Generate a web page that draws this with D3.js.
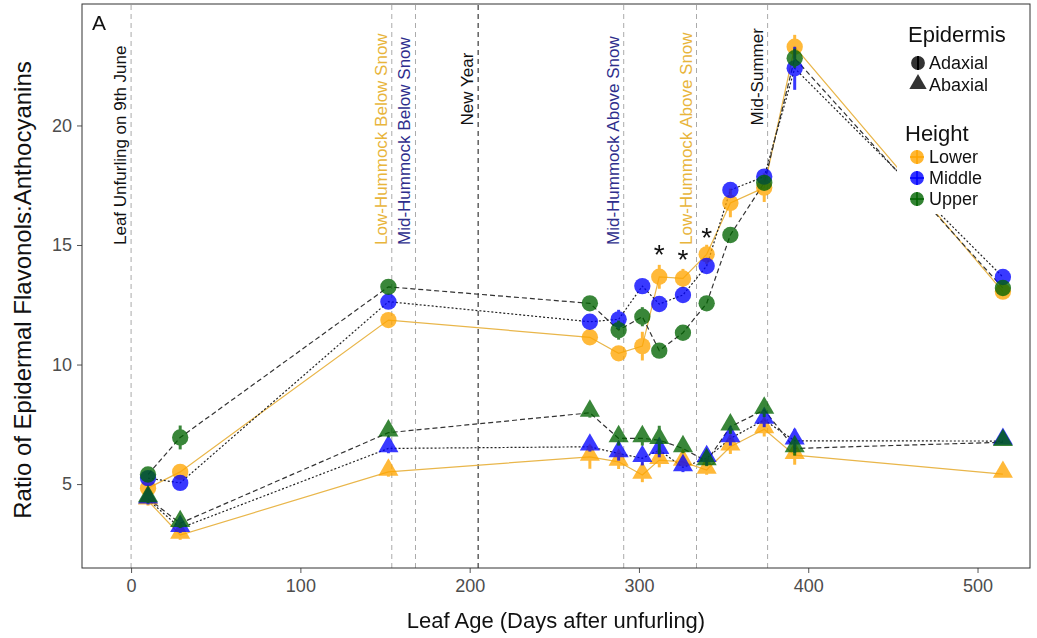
<!DOCTYPE html>
<html>
<head>
<meta charset="utf-8">
<title>Flavonols:Anthocyanins ratio</title>
<script src="https://cdn.jsdelivr.net/npm/d3@7"></script>
<style>
  body { margin: 0; background: #fff; font-family: "Liberation Sans", Arial, sans-serif; }
</style>
</head>
<body>
<div id="chart"></div>
<script>
// leaf age (days after unfurling) for each sampling date
var days = [10, 29, 152, 271, 288, 302, 312, 326, 340, 354, 374, 392, 515];

// adaxial (circles)
var adaxialLower  = [4.83, 5.51, 11.86, 11.14, 10.47, 10.77, 13.67, 13.60, 14.61, 16.76, 17.40, 23.29, 13.05];
var adaxialMiddle = [5.25, 5.05, 12.63, 11.79, 11.89, 13.28, 12.53, 12.91, 14.12, 17.30, 17.86, 22.39, 13.66];
var adaxialUpper  = [5.40, 6.95, 13.25, 12.56, 11.44, 12.00, 10.58, 11.33, 12.56, 15.42, 17.60, 22.81, 13.20];
// abaxial (triangles)
var abaxialLower  = [4.30, 2.87, 5.51, 6.14, 5.93, 5.38, 6.00, 5.93, 5.59, 6.56, 7.29, 6.21, 5.42];
var abaxialMiddle = [4.35, 3.16, 6.49, 6.56, 6.28, 6.08, 6.42, 5.70, 6.08, 6.91, 7.68, 6.81, 6.80];
var abaxialUpper  = [4.40, 3.36, 7.15, 7.98, 6.91, 6.91, 6.84, 6.49, 5.95, 7.40, 8.10, 6.49, 6.75];

// error bar half widths
var adaxialLowerSE  = [0.2, 0.3, 0.3, 0.2, 0.3, 0.6, 0.5, 0.4, 0.4, 0.6, 0.6, 0.5, 0.2];
var adaxialMiddleSE = [0.2, 0.2, 0.3, 0.3, 0.4, 0.2, 0.3, 0.3, 0.2, 0.3, 0.3, 0.9, 0.2];
var adaxialUpperSE  = [0.2, 0.5, 0.3, 0.3, 0.4, 0.4, 0.2, 0.2, 0.2, 0.2, 0.3, 0.4, 0.2];
var abaxialLowerSE  = [0.2, 0.2, 0.2, 0.5, 0.3, 0.3, 0.3, 0.2, 0.2, 0.3, 0.3, 0.4, 0.1];
var abaxialMiddleSE = [0.2, 0.2, 0.2, 0.2, 0.3, 0.3, 0.3, 0.2, 0.3, 0.3, 0.3, 0.5, 0.1];
var abaxialUpperSE  = [0.2, 0.2, 0.2, 0.2, 0.3, 0.3, 0.6, 0.2, 0.2, 0.3, 0.3, 0.3, 0.1];

var heights = ["Lower", "Middle", "Upper"];
var epidermis = ["Adaxial", "Abaxial"];

// vertical event lines
var eventDays   = [0, 154, 168, 205, 291, 334, 376];
var eventLabels = ["Leaf Unfurling on 9th June", "Low-Hummock Below Snow", "Mid-Hummock Below Snow",
                   "New Year", "Mid-Hummock Above Snow", "Low-Hummock Above Snow", "Mid-Summer"];
var eventLabelY = [15, 15, 15, 20, 15, 15, 20];

// significance stars
var starDays = [312, 326, 340];
var starY    = [14.8, 14.6, 15.5];

var xTicks = [0, 100, 200, 300, 400, 500];
var yTicks = [5, 10, 15, 20];

var W = 1037, H = 638;
var margin = {left: 82, top: 4, right: 7, bottom: 70};

var color = {Lower: "#FFA500", Middle: "#0000FF", Upper: "#006400"};
var lineStyle = {
  Lower:  {stroke: "#E9B64A", dash: null, width: 1.2},
  Middle: {stroke: "#222", dash: "2,2", width: 1.2},
  Upper:  {stroke: "#333", dash: "5,3", width: 1.2}
};
var eventColor = {"Low-Hummock Below Snow": "#E8B53C", "Low-Hummock Above Snow": "#E8B53C",
                  "Mid-Hummock Below Snow": "#2E2E8C", "Mid-Hummock Above Snow": "#2E2E8C"};

var series = [
  {ep: "Adaxial", h: "Lower",  v: adaxialLower,  se: adaxialLowerSE},
  {ep: "Adaxial", h: "Middle", v: adaxialMiddle, se: adaxialMiddleSE},
  {ep: "Adaxial", h: "Upper",  v: adaxialUpper,  se: adaxialUpperSE},
  {ep: "Abaxial", h: "Lower",  v: abaxialLower,  se: abaxialLowerSE},
  {ep: "Abaxial", h: "Middle", v: abaxialMiddle, se: abaxialMiddleSE},
  {ep: "Abaxial", h: "Upper",  v: abaxialUpper,  se: abaxialUpperSE}
];

var svg = d3.select("#chart").append("svg").attr("width", W).attr("height", H);

var x = d3.scaleLinear().domain([-29, 531]).range([margin.left, W - margin.right]);
var y = d3.scaleLinear().domain([1.49, 25.08]).range([H - margin.bottom, margin.top]);

// event lines + labels
var ev = svg.append("g");
eventDays.forEach(function(d, i) {
  ev.append("line")
    .attr("x1", x(d)).attr("x2", x(d))
    .attr("y1", y.range()[0]).attr("y2", y.range()[1])
    .attr("stroke", eventLabels[i] == "New Year" ? "#111" : "#aaa")
    .attr("stroke-width", 1)
    .attr("stroke-dasharray", "5,4");
  ev.append("text")
    .attr("transform", "translate(" + (x(d) - 5) + "," + y(eventLabelY[i]) + ") rotate(-90)")
    .attr("font-size", 17)
    .attr("fill", eventColor[eventLabels[i]] || "#111")
    .text(eventLabels[i]);
});

// lines
var line = d3.line().x(function(d) { return x(d[0]); }).y(function(d) { return y(d[1]); });
series.forEach(function(s) {
  var st = lineStyle[s.h];
  svg.append("path")
    .datum(days.map(function(d, i) { return [d, s.v[i]]; }))
    .attr("d", line)
    .attr("fill", "none")
    .attr("stroke", st.stroke)
    .attr("stroke-width", st.width)
    .attr("stroke-dasharray", st.dash);
});

// error bars and points
var circle = d3.symbol().type(d3.symbolCircle).size(210);
var tri = d3.symbol().type(d3.symbolTriangle).size(175);
series.forEach(function(s) {
  var g = svg.append("g").attr("opacity", 0.78);
  days.forEach(function(d, i) {
    g.append("line")
      .attr("x1", x(d)).attr("x2", x(d))
      .attr("y1", y(s.v[i] - s.se[i])).attr("y2", y(s.v[i] + s.se[i]))
      .attr("stroke", color[s.h]).attr("stroke-width", 3);
    g.append("path")
      .attr("d", s.ep == "Adaxial" ? circle() : tri())
      .attr("transform", "translate(" + x(d) + "," + (y(s.v[i]) + (s.ep == "Abaxial" ? -2 : 0)) + ")")
      .attr("fill", color[s.h]);
  });
});

// stars
starDays.forEach(function(d, i) {
  svg.append("text")
    .attr("x", x(d)).attr("y", y(starY[i]) + 14)
    .attr("text-anchor", "middle")
    .attr("font-size", 28)
    .attr("fill", "#111")
    .text("*");
});

// legend (white box hides lines underneath)
var lg = svg.append("g");
lg.append("rect").attr("x", 897).attr("y", 18).attr("width", 132).attr("height", 196).attr("fill", "#fff");
lg.append("text").attr("x", 908).attr("y", 42).attr("font-size", 22).attr("fill", "#111").text("Epidermis");
epidermis.forEach(function(e, i) {
  var cy = 63 + i * 22;
  lg.append("path").attr("d", e == "Adaxial" ? circle.size(150)() : tri.size(130)())
    .attr("transform", "translate(918," + (cy - (e == "Abaxial" ? 1 : 0)) + ")").attr("fill", "#333");
  if (e == "Adaxial")
    lg.append("line").attr("x1", 918).attr("x2", 918).attr("y1", cy - 7).attr("y2", cy + 7)
      .attr("stroke", "#000").attr("stroke-width", 2);
  lg.append("text").attr("x", 929).attr("y", cy + 6).attr("font-size", 18).attr("fill", "#111").text(e);
});
lg.append("text").attr("x", 905).attr("y", 141).attr("font-size", 22).attr("fill", "#111").text("Height");
heights.forEach(function(h, i) {
  var cy = 157 + i * 21;
  lg.append("path").attr("d", circle.size(150)())
    .attr("transform", "translate(917," + cy + ")").attr("fill", color[h]).attr("opacity", 0.8);
  lg.append("line").attr("x1", 917).attr("x2", 917).attr("y1", cy - 7).attr("y2", cy + 7)
    .attr("stroke", color[h]).attr("stroke-width", 1.5);
  lg.append("line").attr("x1", 910).attr("x2", 924).attr("y1", cy).attr("y2", cy)
    .attr("stroke", color[h]).attr("stroke-width", 1.5);
  lg.append("text").attr("x", 929).attr("y", cy + 6).attr("font-size", 18).attr("fill", "#111").text(h);
});

// axes
var xAxis = svg.append("g")
  .attr("transform", "translate(0," + (H - margin.bottom) + ")")
  .call(d3.axisBottom(x).tickValues(xTicks).tickSize(5).tickPadding(6));
var yAxis = svg.append("g")
  .attr("transform", "translate(" + margin.left + ",0)")
  .call(d3.axisLeft(y).tickValues(yTicks).tickSize(5).tickPadding(5));
[xAxis, yAxis].forEach(function(a) {
  a.select(".domain").remove();
  a.selectAll(".tick line").attr("stroke", "#555");
  a.selectAll(".tick text").attr("fill", "#4d4d4d").attr("font-size", 18)
    .attr("font-family", "'Liberation Sans', Arial, sans-serif");
});

// panel border
svg.append("rect")
  .attr("x", margin.left).attr("y", margin.top)
  .attr("width", W - margin.left - margin.right).attr("height", H - margin.top - margin.bottom)
  .attr("fill", "none").attr("stroke", "#333").attr("stroke-width", 1);

svg.append("text").attr("x", 92).attr("y", 30).attr("font-size", 21).attr("fill", "#111").text("A");

svg.append("text")
  .attr("x", (margin.left + W - margin.right) / 2).attr("y", 628)
  .attr("text-anchor", "middle").attr("font-size", 22).attr("fill", "#111")
  .text("Leaf Age (Days after unfurling)");
svg.append("text")
  .attr("transform", "translate(31,290) rotate(-90)")
  .attr("text-anchor", "middle").attr("font-size", 24).attr("fill", "#111")
  .text("Ratio of Epidermal Flavonols:Anthocyanins");
</script>
</body>
</html>
